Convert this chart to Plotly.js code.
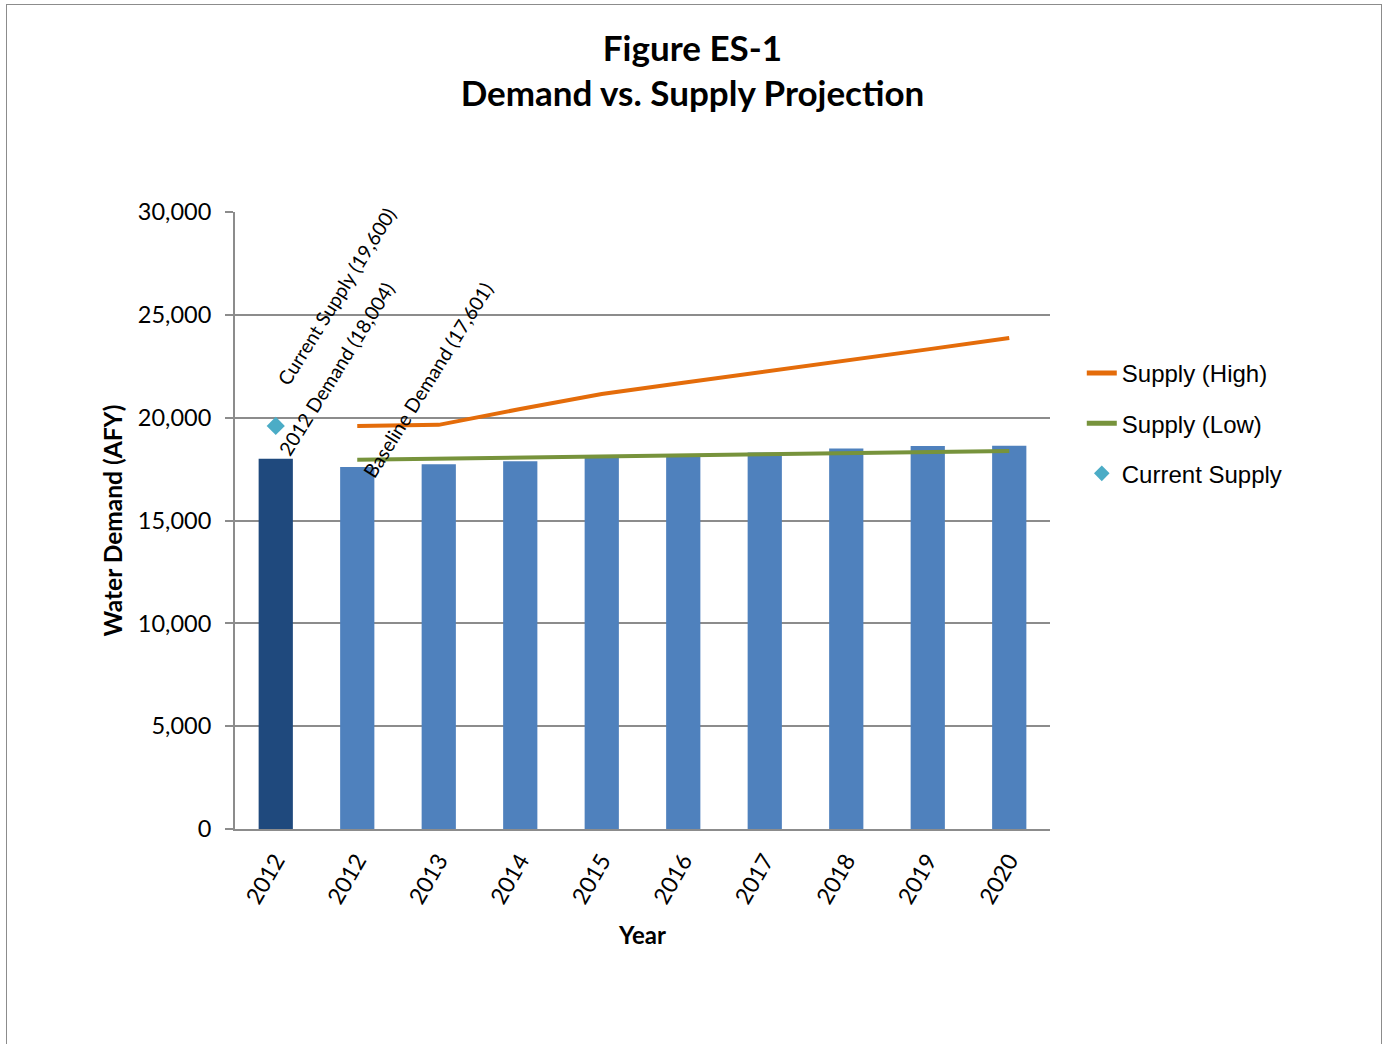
<!DOCTYPE html>
<html>
<head>
<meta charset="utf-8">
<script src="https://cdn.plot.ly/plotly-3.0.1.min.js"></script>
<style>
  html, body { margin: 0; padding: 0; background: #fff; }
  #wrap { position: relative; width: 1385px; height: 1044px; }
  #chart { position: absolute; left: 0; top: 0; width: 1385px; height: 1044px; }
  #frame { position: absolute; left: 6px; top: 4px; width: 1374px; height: 1060px;
           border-left: 1.5px solid #8c8c8c; border-top: 1.5px solid #8c8c8c; border-right: 1.5px solid #8c8c8c;
           pointer-events: none; }
</style>
</head>
<body>
<div id="wrap">
  <div id="chart"></div>
  <div id="frame"></div>
</div>
<script>
// ---- Data ----
const categories = ['2012 (Actual)', '2012', '2013', '2014', '2015', '2016', '2017', '2018', '2019', '2020'];
const tickLabels = ['2012', '2012', '2013', '2014', '2015', '2016', '2017', '2018', '2019', '2020'];
const demand = [18004, 17601, 17740, 17880, 18060, 18180, 18310, 18500, 18620, 18630];
const lineCategories = ['2012', '2013', '2014', '2015', '2016', '2017', '2018', '2019', '2020'];
const supplyHigh = [19600, 19650, 20420, 21150, 21700, 22230, 22780, 23320, 23870];
const supplyLow = [17950, 18000, 18060, 18110, 18170, 18220, 18280, 18330, 18380];
const currentSupplyCat = ['2012 (Actual)'];
const currentSupply = [19600];
const labelTexts = ['Current Supply (19,600)', '2012 Demand (18,004)', 'Baseline Demand (17,601)'];
const yTickVals = [0, 5000, 10000, 15000, 20000, 25000, 30000];
const yTickText = ['0', '5,000', '10,000', '15,000', '20,000', '25,000', '30,000'];

const barColors = ['#1F497D', '#4F81BD', '#4F81BD', '#4F81BD', '#4F81BD', '#4F81BD', '#4F81BD', '#4F81BD', '#4F81BD', '#4F81BD'];

// category positions on the axis
const pos = c => categories.indexOf(c);
const catIdx = categories.map((c, i) => i);

const baseFont = 'Lato, "Open Sans", sans-serif';

const traces = [
  {
    type: 'bar', x: catIdx, y: demand, name: 'Demand',
    marker: { color: barColors, line: { width: 0 } },
    showlegend: false, hoverinfo: 'y'
  },
  {
    type: 'scatter', mode: 'lines', x: lineCategories.map(pos), y: supplyHigh, name: 'Supply (High)',
    line: { color: '#E46C0A', width: 4 }, legendgroup: 'a'
  },
  {
    type: 'scatter', mode: 'lines', x: lineCategories.map(pos), y: supplyLow, name: 'Supply (Low)',
    line: { color: '#77933C', width: 4 }, legendgroup: 'b'
  },
  {
    type: 'scatter', mode: 'markers', x: currentSupplyCat.map(pos), y: currentSupply, name: 'Current Supply',
    marker: { symbol: 'diamond', color: '#4BACC6', size: 14 }, legendgroup: 'c'
  }
];

const annFont = { family: baseFont, size: 19.5, color: '#000' };
const annotations = [
  { x: pos(currentSupplyCat[0]), y: currentSupply[0], text: labelTexts[0], xshift: 61, yshift: 129 },
  { x: 0, y: demand[0], text: labelTexts[1], xshift: 61, yshift: 90 },
  { x: 1, y: demand[1], text: labelTexts[2], xshift: 70, yshift: 87 }
].map(a => Object.assign(a, {
  xref: 'x', yref: 'y', showarrow: false, textangle: -58,
  xanchor: 'center', yanchor: 'middle', font: annFont
}));

const layout = {
  width: 1385, height: 1044,
  paper_bgcolor: '#ffffff', plot_bgcolor: '#ffffff',
  margin: { l: 235, r: 335, t: 212, b: 215, pad: 0 },
  title: {
    text: '<b>Figure ES-1</b><br><b>Demand vs. Supply Projection</b>',
    font: { family: baseFont, size: 35, color: '#000' },
    x: 0.5, xanchor: 'center', y: 0.942, yanchor: 'top', yref: 'container'
  },
  bargap: 0.58,
  xaxis: {
    type: 'linear', range: [-0.5, categories.length - 0.5],
    tickmode: 'array', tickvals: catIdx, ticktext: tickLabels,
    tickangle: -60,
    tickfont: { family: baseFont, size: 23, color: '#000' },
    ticklabelstandoff: 7,
    showline: true, linecolor: '#8c8c8c', linewidth: 2,
    showgrid: false, ticks: '', zeroline: false,
    title: { text: '<b>Year</b>', font: { family: baseFont, size: 24, color: '#000' }, standoff: 20 }
  },
  yaxis: {
    range: [0, 30000],
    tickmode: 'array', tickvals: yTickVals, ticktext: yTickText,
    tickfont: { family: baseFont, size: 23.5, color: '#000' },
    ticklabelstandoff: 9,
    showline: true, linecolor: '#8c8c8c', linewidth: 2,
    showgrid: true, gridcolor: '#8c8c8c', gridwidth: 2,
    ticks: 'outside', ticklen: 8, tickwidth: 2, tickcolor: '#8c8c8c',
    zeroline: false,
    title: { text: '<b>Water Demand (AFY)</b>', font: { family: baseFont, size: 24.5, color: '#000' }, standoff: 8 }
  },
  legend: {
    x: 1.039, xanchor: 'left', y: 0.775, yanchor: 'top',
    font: { family: 'Liberation Sans, Arial, sans-serif', size: 24, color: '#000' },
    tracegroupgap: 16, itemsizing: 'constant',
    bgcolor: 'rgba(0,0,0,0)'
  },
  annotations: annotations,
  showlegend: true
};

Plotly.newPlot('chart', traces, layout, { displayModeBar: false, responsive: false });
</script>
</body>
</html>
